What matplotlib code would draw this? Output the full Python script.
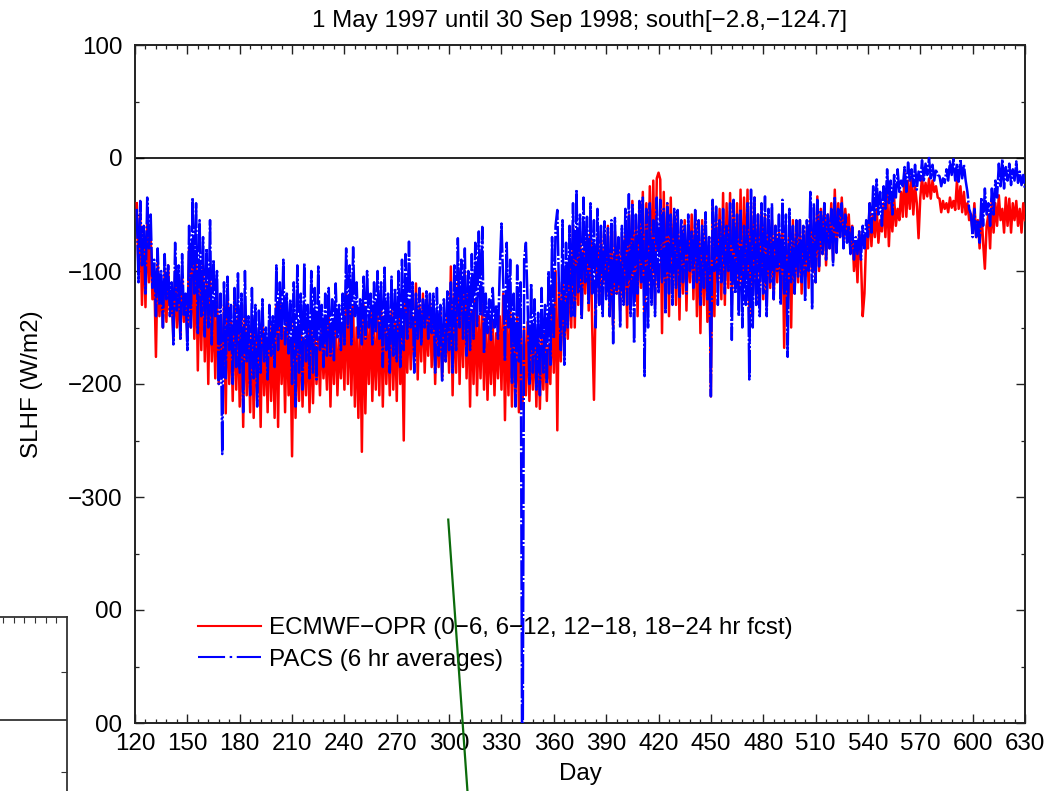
import matplotlib
matplotlib.use("Agg")
import matplotlib.pyplot as plt
import numpy as np

plt.rcParams['font.family'] = ['Liberation Sans', 'DejaVu Sans']

# --- DATA (one value per day from day 121) ---
first_day = 121
pacs_flux = [
    -45, -110, -38, -95, -60, -120, -35, -80, -50, -115,
    -90, -140, -80, -130, -100, -150, -85, -125, -95, -140,
    -110, -165, -75, -135, -95, -160, -85, -140, -120, -170,
    -60, -150, -35, -120, -40, -155, -55, -140, -70, -158,
    -80, -150, -55, -165, -90, -140, -100, -200, -120, -262,
    -110, -195, -105, -170, -130, -200, -115, -185, -102, -190,
    -120, -225, -100, -180, -140, -210, -115, -195, -130, -220,
    -135, -190, -125, -180, -150, -196, -130, -175, -140, -185,
    -95, -170, -110, -160, -90, -165, -120, -173, -125, -200,
    -110, -220, -95, -190, -120, -205, -93, -180, -130, -195,
    -100, -190, -115, -196, -96, -170, -130, -185, -120, -175,
    -115, -175, -125, -179, -111, -160, -130, -170, -120, -165,
    -80, -150, -95, -165, -79, -140, -110, -160, -125, -165,
    -105, -160, -100, -150, -120, -165, -110, -155, -100, -160,
    -110, -185, -97, -170, -120, -190, -105, -175, -115, -180,
    -100, -185, -90, -170, -85, -160, -74, -150, -110, -190,
    -120, -160, -115, -165, -125, -150, -118, -160, -120, -155,
    -120, -190, -115, -175, -130, -197, -125, -180, -118, -170,
    -110, -190, -95, -170, -71, -150, -90, -160, -80, -175,
    -100, -170, -85, -160, -75, -150, -65, -140, -61, -173,
    -120, -155, -125, -161, -115, -150, -130, -160, -100, -58,
    -110, -180, -75, -150, -90, -200, -120, -220, -95, -180,
    -110, -620, -90, -75, -130, -200, -111, -190, -125, -205,
    -137, -210, -115, -190, -130, -200, -100, -183, -70, -160,
    -60, -46, -120, -170, -55, -183, -75, -150, -60, -140,
    -40, -140, -28, -120, -50, -143, -35, -110, -52, -130,
    -40, -120, -55, -150, -45, -130, -60, -140, -56, -125,
    -62, -140, -55, -164, -53, -120, -70, -150, -60, -130,
    -45, -130, -32, -140, -40, -164, -50, -120, -38, -110,
    -35, -193, -45, -150, -40, -130, -55, -140, -35, -120,
    -37, -110, -45, -138, -40, -120, -50, -130, -45, -115,
    -46, -123, -55, -110, -60, -120, -50, -100, -65, -115,
    -46, -110, -55, -130, -60, -115, -48, -125, -70, -211,
    -37, -100, -43, -130, -55, -110, -45, -120, -60, -100,
    -40, -161, -37, -120, -50, -140, -45, -150, -60, -130,
    -40, -196, -28, -150, -35, -130, -50, -140, -40, -120,
    -34, -140, -45, -110, -40, -125, -60, -100, -50, -130,
    -37, -120, -50, -176, -45, -110, -60, -120, -55, -105,
    -55, -110, -60, -127, -55, -100, -30, -134, -40, -110,
    -37, -96, -46, -85, -40, -90, -50, -80, -45, -95,
    -34, -84, -45, -70, -40, -80, -50, -75, -60, -85,
    -61, -90, -70, -85, -65, -90, -60, -80, -55, -70,
    -40, -66, -25, -55, -19, -50, -30, -60, -25, -45,
    -10, -40, -20, -50, -15, -35, -10, -30, -20, -25,
    -8, -30, -4, -20, -10, -25, -6, -28, -12, -20,
    -2, -21, -5, -15, 0, -18, -6, -20, -10, -15,
    -16, -25, -18, -22, -10, -20, -3, -15, -1, -20,
    -5, -21, -1, -18, -6, -20, -30, -45, -50, -70,
    -45, -70, -55, -75, -35, -60, -27, -50, -40, -60,
    -27, -50, -20, -35, -5, -25, -1, -27, -8, -20,
    -5, -24, -10, -20, -3, -22, -12, -24, -15, -28,
]
ecmwf_flux = [
    -40, -100, -50, -130, -65, -132, -55, -110, -70, -125,
    -100, -176, -90, -140, -110, -150, -100, -145, -95, -135,
    -120, -160, -100, -150, -115, -160, -105, -145, -125, -155,
    -80, -150, -90, -160, -85, -188, -100, -170, -95, -180,
    -110, -200, -100, -180, -130, -195, -120, -200, -140, -190,
    -130, -226, -120, -200, -145, -215, -125, -205, -140, -220,
    -140, -238, -130, -210, -155, -225, -140, -230, -150, -215,
    -150, -238, -140, -210, -160, -225, -145, -215, -155, -230,
    -130, -238, -125, -200, -150, -225, -140, -210, -160, -264,
    -140, -230, -150, -215, -145, -220, -160, -210, -150, -225,
    -150, -217, -155, -200, -160, -210, -150, -195, -165, -205,
    -140, -220, -150, -200, -145, -210, -160, -195, -150, -205,
    -120, -200, -135, -210, -130, -220, -150, -230, -140, -260,
    -130, -226, -145, -200, -135, -215, -150, -205, -140, -210,
    -130, -220, -140, -200, -150, -210, -135, -205, -145, -215,
    -125, -200, -150, -250, -120, -190, -135, -187, -140, -180,
    -111, -196, -130, -180, -120, -190, -140, -175, -125, -185,
    -130, -200, -140, -185, -135, -195, -150, -180, -140, -190,
    -96, -210, -120, -190, -110, -200, -130, -185, -100, -195,
    -120, -220, -135, -200, -125, -210, -140, -195, -130, -205,
    -140, -214, -150, -200, -145, -210, -155, -195, -140, -205,
    -120, -232, -140, -210, -130, -220, -150, -215, -140, -225,
    -140, -222, -150, -210, -145, -215, -160, -205, -150, -220,
    -150, -222, -160, -205, -155, -215, -165, -200, -130, -190,
    -100, -241, -110, -180, -105, -170, -120, -160, -90, -150,
    -60, -150, -75, -130, -65, -140, -80, -120, -70, -135,
    -60, -150, -214, -120, -70, -130, -65, -110, -80, -123,
    -60, -140, -75, -150, -65, -120, -80, -135, -70, -125,
    -60, -150, -50, -130, -38, -120, -55, -140, -45, -115,
    -30, -150, -40, -120, -25, -110, -20, -130, -18, -13,
    -19, -155, -30, -120, -40, -140, -35, -110, -50, -130,
    -50, -143, -60, -120, -55, -135, -65, -110, -50, -125,
    -50, -140, -60, -155, -55, -130, -65, -145, -70, -211,
    -40, -140, -50, -110, -45, -125, -31, -130, -40, -115,
    -31, -130, -45, -110, -40, -120, -28, -125, -35, -105,
    -28, -150, -40, -120, -35, -130, -50, -110, -45, -125,
    -50, -130, -60, -115, -55, -125, -60, -110, -65, -120,
    -60, -168, -70, -130, -65, -150, -55, -120, -60, -110,
    -55, -120, -65, -105, -60, -115, -50, -100, -55, -110,
    -34, -100, -45, -85, -40, -95, -50, -80, -40, -90,
    -28, -80, -40, -70, -35, -75, -45, -65, -50, -80,
    -60, -100, -75, -110, -65, -90, -140, -120, -70, -80,
    -40, -78, -50, -70, -45, -75, -55, -65, -40, -70,
    -30, -78, -40, -65, -35, -60, -45, -55, -30, -52,
    -13, -52, -20, -45, -15, -50, -25, -40, -71, -35,
    -17, -36, -22, -34, -18, -36, -20, -30, -25, -35,
    -36, -48, -38, -45, -40, -48, -35, -44, -38, -46,
    -20, -45, -25, -48, -30, -50, -40, -55, -50, -65,
    -40, -70, -55, -80, -45, -75, -98, -60, -50, -80,
    -36, -66, -40, -60, -33, -55, -45, -66, -35, -60,
    -36, -66, -40, -55, -38, -60, -45, -66, -40, -55,
]
days = np.arange(first_day, first_day + len(pacs_flux))

x_ticks = list(range(120, 631, 30))
y_ticks = [100, 0, -100, -200, -300, -400, -500]
y_tick_labels = ['100', '0', '\u2212100', '\u2212200', '\u2212300', '00', '00']

# stray pen stroke crossing the figure (day, value)
stroke_days = [299.5, 310.5]
stroke_vals = [-320, -560]

title = '1 May 1997 until 30 Sep 1998; south[\u22122.8,\u2212124.7]'
ecmwf_label = 'ECMWF\u2212OPR (0\u22126, 6\u221212, 12\u221218, 18\u221224 hr fcst)'
pacs_label = 'PACS (6 hr averages)'

FS = 17.4
W, H = 1062, 791
fig = plt.figure(figsize=(W / 100, H / 100), dpi=100)

# --- leftover frame of a neighbouring panel (bottom left) ---
side = fig.add_axes([-53 / W, -60 / H, 120 / W, (791 + 60 - 617) / H])
side.set_xlim(-53, 67)
side.set_ylim(851, 617)
side.spines['left'].set_visible(False)
side.spines['bottom'].set_visible(False)
for s in ('top', 'right'):
    side.spines[s].set_linewidth(1.3)
    side.spines[s].set_color('#333333')
side.axhline(720, color='#333333', lw=1.3)
side.tick_params(left=False, bottom=False, labelleft=False, labelbottom=False,
                 top=True, right=True, direction='in', length=4, color='#333333')
side.set_xticks(np.arange(3.3, 60, 10.6))
side.set_yticks([672, 772])

# --- main panel ---
ax = fig.add_axes([135 / W, 1 - 723 / H, 890 / W, 678 / H])
ax.plot(days, ecmwf_flux, color='red', lw=1.8, label=ecmwf_label, zorder=3)
ax.plot(days, pacs_flux, color='blue', lw=1.8, ls=(0, (12, 0.8, 0.8, 0.8)),
        label=pacs_label, zorder=4)
ax.axhline(0, color='black', lw=1.2, zorder=2)

ax.set_xlim(120, 630)
ax.set_ylim(-500, 100)
ax.set_xticks(x_ticks)
ax.set_xticks(np.arange(120, 631, 6), minor=True)
ax.set_yticks(y_ticks)
ax.set_yticklabels(y_tick_labels)
ax.set_yticks(np.arange(-500, 101, 50), minor=True)
ax.tick_params(which='both', direction='in', top=True, right=True,
               labelsize=FS, color='#222222')
ax.tick_params(which='major', length=6.5, width=1.0)
ax.tick_params(which='minor', length=3, width=0.9)
ax.tick_params(axis='x', pad=7)
ax.tick_params(axis='y', pad=9)
for s in ax.spines.values():
    s.set_linewidth(1.4)
    s.set_color('#222222')

ax.set_xlabel('Day', fontsize=FS, labelpad=6)
ax.set_ylabel('SLHF (W/m2)', fontsize=FS, labelpad=18)
ax.set_title(title, fontsize=FS, pad=13)

leg = ax.legend(loc='upper left', bbox_to_anchor=(198 / W, 1 - 617 / H),
                bbox_transform=fig.transFigure, frameon=False, fontsize=FS,
                handlelength=2.6, handletextpad=0.33, labelspacing=0.4,
                borderpad=0, borderaxespad=0)
for h in leg.legend_handles:
    h.set_linewidth(1.5)
# legend key for PACS: long dash, dot, long dash
leg.legend_handles[1].set_linestyle((0, (13, 2.2, 1.2, 2.2)))

ax.plot(stroke_days, stroke_vals, color='#0b6b0b', lw=1.6, clip_on=False, zorder=6)

fig.savefig('out.png', dpi=100)
